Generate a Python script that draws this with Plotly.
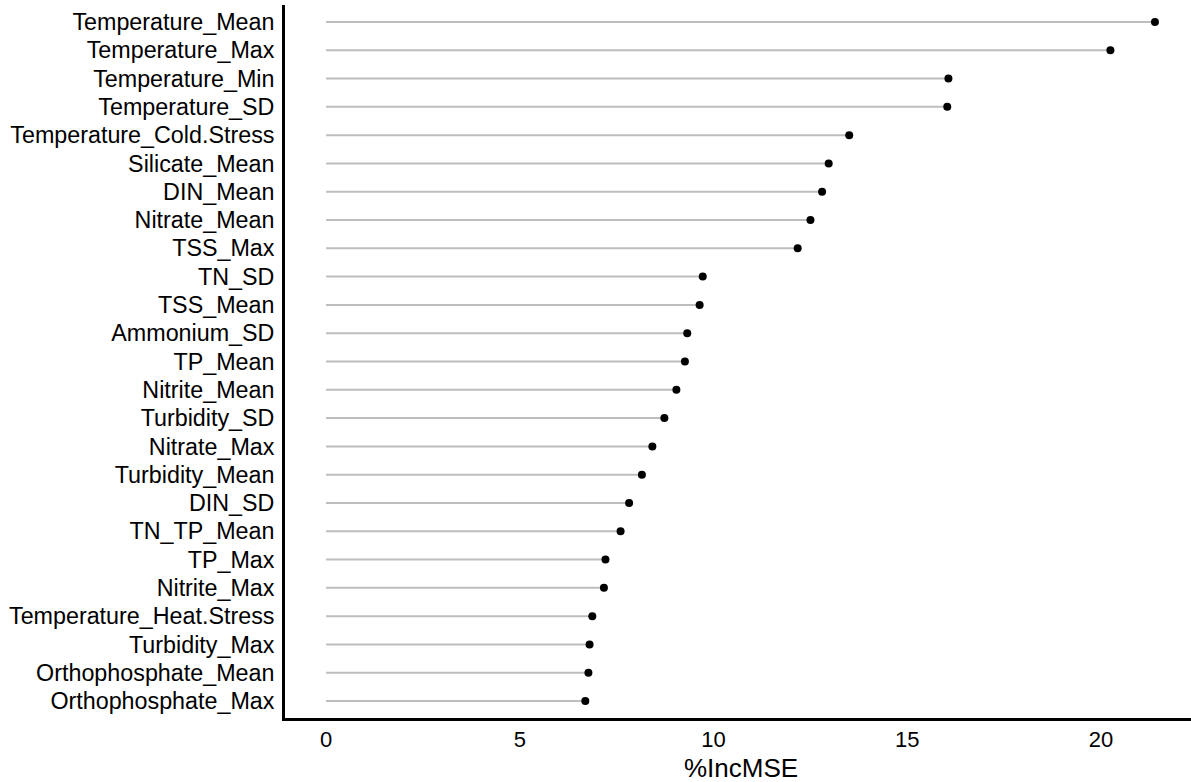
import plotly.graph_objects as go

# Variable importance from the random forest (%IncMSE), most important first
variables = [
    "Temperature_Mean", "Temperature_Max", "Temperature_Min", "Temperature_SD",
    "Temperature_Cold.Stress", "Silicate_Mean", "DIN_Mean", "Nitrate_Mean",
    "TSS_Max", "TN_SD", "TSS_Mean", "Ammonium_SD", "TP_Mean", "Nitrite_Mean",
    "Turbidity_SD", "Nitrate_Max", "Turbidity_Mean", "DIN_SD", "TN_TP_Mean",
    "TP_Max", "Nitrite_Max", "Temperature_Heat.Stress", "Turbidity_Max",
    "Orthophosphate_Mean", "Orthophosphate_Max",
]
inc_mse = [
    21.39, 20.24, 16.06, 16.03,
    13.50, 12.97, 12.80, 12.50,
    12.17, 9.72, 9.64, 9.32, 9.26, 9.04,
    8.73, 8.42, 8.15, 7.82, 7.60,
    7.21, 7.17, 6.87, 6.80,
    6.77, 6.69,
]
x_ticks = [0, 5, 10, 15, 20]
x_title = "%IncMSE"

FONT = "Liberation Sans, Arial, sans-serif"

# Stems: one polyline broken with None between variables
seg_x, seg_y = [], []
for name, val in zip(variables, inc_mse):
    seg_x += [0, val, None]
    seg_y += [name, name, None]

fig = go.Figure()
fig.add_trace(go.Scatter(
    x=seg_x, y=seg_y, mode="lines",
    line=dict(color="#bebebe", width=2),
    hoverinfo="skip", showlegend=False,
))
fig.add_trace(go.Scatter(
    x=inc_mse, y=variables, mode="markers",
    marker=dict(color="black", size=8),
    showlegend=False,
))

n = len(variables)
fig.update_layout(
    width=1191, height=782,
    margin=dict(l=285, r=0, t=5, b=64),
    paper_bgcolor="white", plot_bgcolor="white",
    font=dict(family=FONT, color="black"),
    xaxis=dict(
        range=[-1.06, 22.32],
        tickvals=x_ticks, ticktext=[str(t) for t in x_ticks],
        tickfont=dict(size=22, color="black"),
        showgrid=False, zeroline=False,
        showline=True, linecolor="black", linewidth=2.8,
        ticks="",
    ),
    yaxis=dict(
        type="category", categoryorder="array", categoryarray=variables,
        range=[n - 1 + 0.6, -0.6],
        tickfont=dict(size=23.3, color="black"),
        showgrid=False, zeroline=False,
        showline=True, linecolor="black", linewidth=2.8,
        ticks="outside", ticklen=3, tickcolor="rgba(0,0,0,0)",
    ),
    annotations=[dict(
        text=x_title, x=10.7, xref="x", y=0, yref="paper",
        yshift=-33, yanchor="top", showarrow=False,
        font=dict(size=26, color="black", family=FONT),
    )],
)

fig.write_html("out.html")
